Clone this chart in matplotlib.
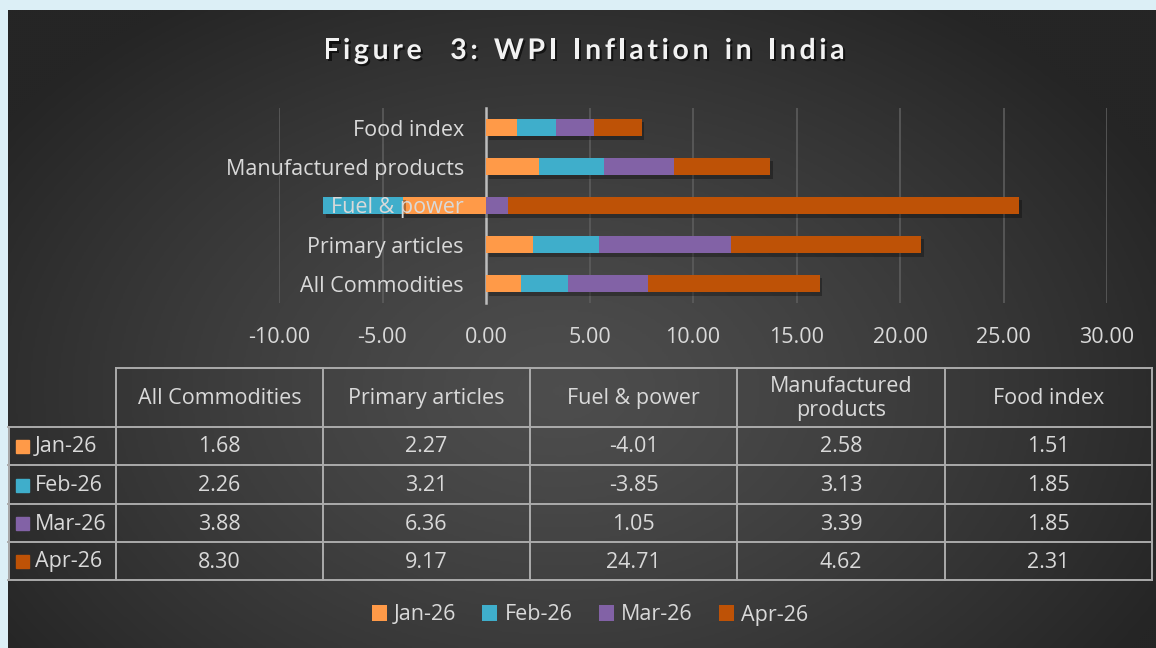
import numpy as np
import matplotlib
matplotlib.use("Agg")
import matplotlib.pyplot as plt
import matplotlib.patheffects as pe
from matplotlib.patches import Patch
from matplotlib.colors import LinearSegmentedColormap

plt.rcParams["font.family"] = ["Open Sans", "DejaVu Sans"]

categories = ["All Commodities", "Primary articles", "Fuel & power",
              "Manufactured products", "Food index"]
table_headers = ["All Commodities", "Primary articles", "Fuel & power",
                 "Manufactured\nproducts", "Food index"]
months = ["Jan-26", "Feb-26", "Mar-26", "Apr-26"]
jan = [1.68, 2.27, -4.01, 2.58, 1.51]
feb = [2.26, 3.21, -3.85, 3.13, 1.85]
mar = [3.88, 6.36, 1.05, 3.39, 1.85]
apr = [8.30, 9.17, 24.71, 4.62, 2.31]
series = [jan, feb, mar, apr]
colors = ["#FF9A48", "#3FAECB", "#8262A6", "#BE5206"]
xticks = [-10, -5, 0, 5, 10, 15, 20, 25, 30]

TXT = "#d9d9d9"
FS = 15.5
W, H = 1156, 648

fig = plt.figure(figsize=(W / 100, H / 100), dpi=100, facecolor="#DCEFF6")

# background panel with radial gradient, pixel coordinates
bg = fig.add_axes([0, 0, 1, 1], zorder=0)
bg.set_xlim(0, W)
bg.set_ylim(H, 0)
bg.axis("off")
yy, xx = np.mgrid[10:H:2, 8:W:2]
r = np.sqrt(((xx - 560) / 680.0) ** 2 + ((yy - 390) / 470.0) ** 2)
r = np.clip(r, 0, 1)
cmap = LinearSegmentedColormap.from_list("bg", ["#4d4d4d", "#252525"])
bg.imshow(r ** 1.3, cmap=cmap, vmin=0, vmax=1, extent=(8, W, H, 10),
          aspect="auto", interpolation="bilinear")

# title with letter spacing
title = "Figure  3: WPI Inflation in India"
renderer = fig.canvas.get_renderer()
tkw = dict(fontsize=20.5, fontweight="bold", color="#f2f2f2",
           family=["Lato", "DejaVu Sans"])
spacing = 3.6
widths = []
for ch in title:
    if ch == " ":
        t = bg.text(0, 0, "n", **tkw)
        w = t.get_window_extent(renderer).width * 0.55
    else:
        t = bg.text(0, 0, ch, **tkw)
        w = t.get_window_extent(renderer).width
    t.remove()
    widths.append(w)
total = sum(widths) + spacing * (len(title) - 1)
x0 = 584 - total / 2
shadow = [pe.withSimplePatchShadow(offset=(1.5, -1.5), shadow_rgbFace="black", alpha=0.6)]
for ch, w in zip(title, widths):
    if ch != " ":
        bg.text(x0, 51, ch, ha="left", va="center", path_effects=shadow, **tkw)
    x0 += w + spacing

# bar chart
ax = fig.add_axes([279 / W, 1 - 303 / H, 828 / W, 195 / H], zorder=1)
ax.patch.set_alpha(0)
ax.set_xlim(-10, 30)
ax.set_ylim(-0.5, 4.5)
for xv in xticks:
    if xv != 0:
        ax.axvline(xv, color="#5c5c5c", linewidth=1.2, zorder=0)
ypos = np.arange(len(categories))
pos_base = np.zeros(len(categories))
neg_base = np.zeros(len(categories))
bar_fx = [pe.SimplePatchShadow(offset=(2, -2.5), shadow_rgbFace="black", alpha=0.3),
          pe.Normal()]
for vals, col, lab in zip(series, colors, months):
    vals = np.array(vals)
    left = np.where(vals >= 0, pos_base, neg_base)
    bars = ax.barh(ypos, vals, left=left, height=0.44, color=col, label=lab,
                   zorder=1)
    for b in bars:
        b.set_path_effects(bar_fx)
    pos_base = pos_base + np.where(vals >= 0, vals, 0)
    neg_base = neg_base + np.where(vals < 0, vals, 0)

for s in ["top", "right", "bottom"]:
    ax.spines[s].set_visible(False)
ax.spines["left"].set_position(("data", 0))
ax.spines["left"].set_color("#bdbdbd")
ax.spines["left"].set_linewidth(1.8)
ax.spines["left"].set_zorder(0.5)
ax.set_yticks(ypos)
ax.set_yticklabels(categories)
ax.tick_params(axis="y", length=0, pad=16, labelsize=FS, labelcolor=TXT)
ax.set_xticks(xticks)
ax.set_xticklabels([f"{v:.2f}" for v in xticks])
ax.tick_params(axis="x", length=0, pad=17, labelsize=FS, labelcolor=TXT)
for lbl in ax.get_yticklabels():
    lbl.set_zorder(5)

# data table
col_edges = [116, 323, 530, 737, 945, 1152]
row_edges = [368, 427, 465, 504, 542, 580]
lc = "#ababab"
lw = 1.4
bg.plot([116, 1152], [row_edges[0]] * 2, color=lc, lw=lw)
for yv in row_edges[1:]:
    bg.plot([8, 1152], [yv, yv], color=lc, lw=lw)
for xv in col_edges:
    bg.plot([xv, xv], [row_edges[0], row_edges[-1]], color=lc, lw=lw)
bg.plot([8.5, 8.5], [row_edges[1], row_edges[-1]], color=lc, lw=lw)

for j, head in enumerate(table_headers):
    xc = (col_edges[j] + col_edges[j + 1]) / 2
    bg.text(xc, (row_edges[0] + row_edges[1]) / 2 + 1, head, ha="center",
            va="center", fontsize=FS, color=TXT, linespacing=1.15)

for i, (vals, col, lab) in enumerate(zip(series, colors, months)):
    yc = (row_edges[i + 1] + row_edges[i + 2]) / 2
    bg.add_patch(plt.Rectangle((16, yc - 6), 13, 13, color=col))
    bg.text(35, yc + 1, lab, ha="left", va="center", fontsize=FS, color=TXT)
    for j, v in enumerate(vals):
        xc = (col_edges[j] + col_edges[j + 1]) / 2
        bg.text(xc, yc + 1, f"{v:.2f}", ha="center", va="center",
                fontsize=FS, color=TXT)

# legend at bottom
handles = [Patch(facecolor=c, label=m) for c, m in zip(colors, months)]
fig.legend(handles=handles, loc="center", ncol=4, frameon=False,
           bbox_to_anchor=(590 / W, 1 - 615 / H), fontsize=FS,
           labelcolor=TXT, handlelength=0.7, handleheight=0.7,
           handletextpad=0.35, columnspacing=1.2)

fig.savefig("out.png", dpi=100, facecolor=fig.get_facecolor())
